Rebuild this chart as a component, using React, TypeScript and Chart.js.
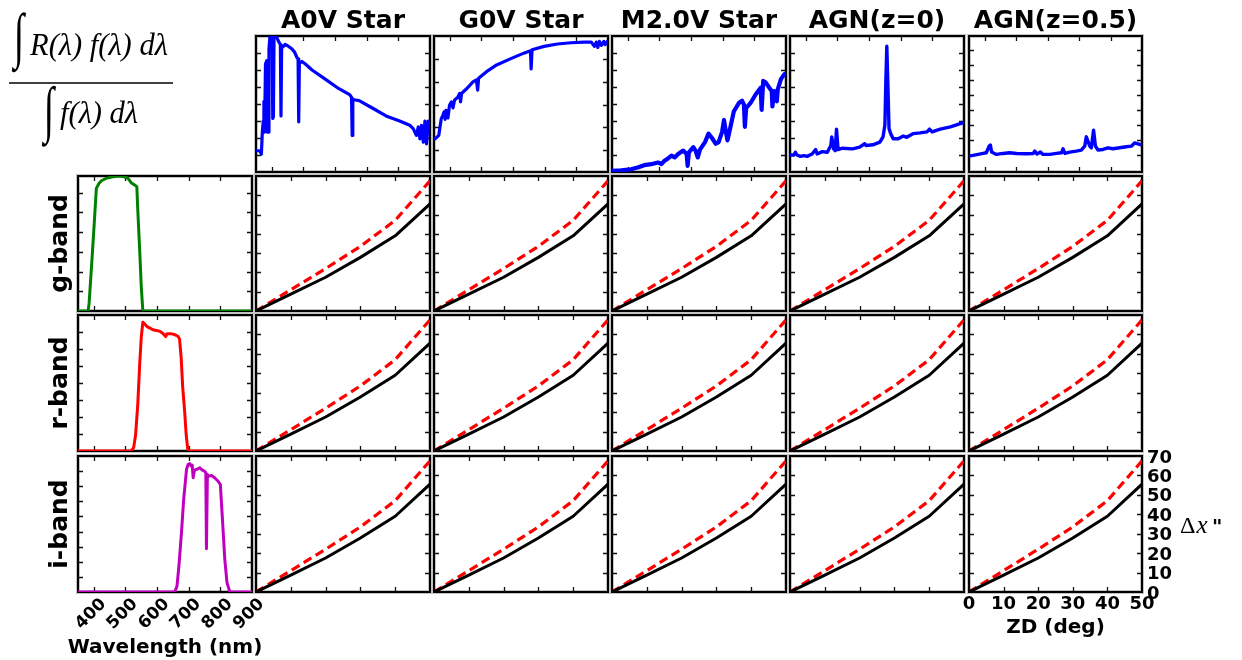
import React, { useEffect, useRef } from "react";
import { Chart, registerables } from "chart.js";

Chart.register(...registerables);

// ---------------- data ----------------
const spectrumTitles = ["A0V Star", "G0V Star", "M2.0V Star", "AGN(z=0)", "AGN(z=0.5)"];
const bandLabels = ["g-band", "r-band", "i-band"];
const bandColors = ["#008000", "#ff0000", "#bf00bf"];
const spectrumColor = "#0000ff";

const wavelengthRange = [350, 900];
const wavelengthTicks = [400, 500, 600, 700, 800];
const wavelengthTickLabels = [400, 500, 600, 700, 800, 900];

// spectra: [wavelength nm, relative flux]
const a0vSpectrum: [number, number][] = [
  [350, 0.25], [362, 0.25], [367, 0.21], [370, 0.47], [373, 0.6], [375, 0.83], [377, 0.47], [380, 1.27],
  [384, 1.31], [386, 0.47], [388, 0.47], [391, 1.45], [394, 1.59], [397, 1.61], [401, 1.58], [403, 0.63],
  [405, 0.65], [407, 1.59], [410, 1.61], [416, 1.58], [422, 1.53], [427, 1.5], [429, 0.66], [431, 1.46],
  [434, 1.47], [442, 1.5], [452, 1.48], [463, 1.45], [472, 1.41], [479, 1.35], [483, 1.33], [485, 0.59],
  [487, 1.27], [491, 1.29], [495, 1.3], [506, 1.27], [527, 1.2], [570, 1.09], [612, 0.98], [646, 0.91],
  [652, 0.88], [654, 0.43], [656, 0.86], [660, 0.85], [676, 0.84], [719, 0.75], [761, 0.66], [804, 0.6],
  [836, 0.55], [847, 0.51], [852, 0.47], [857, 0.43], [863, 0.53], [868, 0.39], [873, 0.55], [879, 0.35],
  [884, 0.6], [889, 0.33], [895, 0.6], [900, 0.5],
];
const a0vRange = [0, 1.6];
const a0vTicks = [0.2, 0.4, 0.6, 0.8, 1.0, 1.2, 1.4];

const g0vSpectrum: [number, number][] = [
  [350, 0.294], [356, 0.306], [365, 0.33], [369, 0.403], [373, 0.477], [378, 0.506], [382, 0.536],
  [385, 0.471], [388, 0.55], [394, 0.483], [399, 0.594], [405, 0.624], [410, 0.571], [415, 0.638],
  [426, 0.668], [431, 0.697], [434, 0.624], [437, 0.697], [452, 0.736], [474, 0.8], [484, 0.815],
  [488, 0.727], [491, 0.83], [516, 0.888], [548, 0.947], [591, 1.0], [634, 1.05], [655, 1.07],
  [657, 0.912], [660, 1.08], [698, 1.109], [740, 1.13], [783, 1.141], [825, 1.147], [847, 1.147],
  [857, 1.109], [863, 1.147], [868, 1.1], [873, 1.153], [879, 1.118], [887, 1.153], [891, 1.124],
  [900, 1.159],
];
const g0vRange = [0.01, 1.2];
const g0vTicks = [0.2, 0.4, 0.6, 0.8, 1.0];

const m2Spectrum: [number, number][] = [
  [350, 0.012], [378, 0.02], [410, 0.032], [431, 0.052], [452, 0.08], [474, 0.092], [495, 0.112],
  [506, 0.092], [516, 0.132], [527, 0.16], [538, 0.192], [548, 0.172], [559, 0.212], [575, 0.252],
  [586, 0.212], [589, 0.072], [593, 0.232], [607, 0.292], [614, 0.252], [621, 0.172], [628, 0.264],
  [644, 0.352], [655, 0.452], [666, 0.4], [678, 0.332], [687, 0.352], [698, 0.472], [704, 0.612],
  [710, 0.472], [715, 0.372], [721, 0.472], [735, 0.712], [751, 0.812], [761, 0.84], [767, 0.792],
  [770, 0.532], [774, 0.752], [788, 0.812], [804, 0.912], [820, 0.992], [823, 0.732], [828, 1.072],
  [836, 1.052], [847, 0.992], [855, 0.952], [857, 0.772], [863, 0.952], [868, 0.872], [871, 0.832],
  [874, 0.972], [884, 1.092], [895, 1.152], [900, 1.16],
];
const m2Range = [0, 1.6];
const m2Ticks = [0.2, 0.4, 0.6, 0.8, 1.0, 1.2, 1.4];

const agn0Spectrum: [number, number][] = [
  [350, 0.2], [362, 0.2], [367, 0.232], [372, 0.2], [383, 0.184], [394, 0.192], [404, 0.184],
  [420, 0.212], [431, 0.264], [436, 0.212], [452, 0.24], [468, 0.232], [479, 0.312], [482, 0.412],
  [488, 0.272], [493, 0.252], [497, 0.504], [502, 0.264], [516, 0.28], [548, 0.272], [570, 0.292],
  [586, 0.332], [591, 0.312], [612, 0.32], [634, 0.352], [644, 0.412], [650, 0.552], [653, 1.072],
  [656, 1.48], [659, 1.072], [663, 0.512], [668, 0.452], [676, 0.392], [692, 0.392], [708, 0.424],
  [719, 0.408], [740, 0.452], [761, 0.46], [783, 0.472], [791, 0.504], [799, 0.472], [825, 0.504],
  [857, 0.532], [900, 0.584],
];
const agn0Range = [0, 1.6];
const agn0Ticks = [0.2, 0.4, 0.6, 0.8, 1.0, 1.2, 1.4];

const agn05Spectrum: [number, number][] = [
  [350, 0.392], [363, 0.401], [379, 0.414], [395, 0.427], [405, 0.436], [414, 0.524], [418, 0.538],
  [422, 0.445], [437, 0.414], [458, 0.427], [479, 0.436], [501, 0.427], [532, 0.423], [554, 0.427],
  [559, 0.458], [566, 0.418], [577, 0.445], [585, 0.414], [607, 0.414], [628, 0.427], [644, 0.436],
  [649, 0.489], [655, 0.427], [670, 0.445], [691, 0.458], [707, 0.471], [718, 0.524], [723, 0.648],
  [728, 0.591], [734, 0.524], [739, 0.502], [746, 0.736], [752, 0.524], [760, 0.471], [776, 0.48],
  [792, 0.502], [808, 0.489], [829, 0.502], [850, 0.516], [866, 0.524], [877, 0.568], [887, 0.555],
  [900, 0.538],
];
const agn05Range = [0.18, 1.99];
const agn05Ticks = [0.4, 0.6, 0.8, 1.0, 1.2, 1.4, 1.6, 1.8];

// filter transmission curves: [wavelength nm, throughput]
const gBand: [number, number][] = [
  [350, 0], [382, 0], [385, 0.037], [392, 0.207], [400, 0.41], [408, 0.622], [416, 0.647], [424, 0.661],
  [439, 0.673], [460, 0.681], [481, 0.685], [497, 0.681], [508, 0.673], [518, 0.651], [529, 0.639],
  [536, 0.631], [539, 0.512], [545, 0.308], [550, 0.122], [555, 0], [900, 0],
];
const gRange = [0, 0.685];
const gTicks = [0.1, 0.2, 0.3, 0.4, 0.5, 0.6];

const rBand: [number, number][] = [
  [350, 0], [518, 0], [526, 0.02], [532, 0.094], [539, 0.276], [545, 0.512], [550, 0.669], [555, 0.758],
  [560, 0.748], [568, 0.732], [576, 0.724], [587, 0.713], [597, 0.709], [608, 0.705], [618, 0.693],
  [627, 0.673], [631, 0.689], [645, 0.689], [655, 0.685], [666, 0.675], [671, 0.659], [676, 0.551],
  [681, 0.374], [687, 0.236], [692, 0.094], [697, 0.01], [702, 0], [900, 0],
];
const rRange = [0, 0.8];
const rTicks = [0.1, 0.2, 0.3, 0.4, 0.5, 0.6, 0.7];

const iBand: [number, number][] = [
  [350, 0], [656, 0], [663, 0.04], [669, 0.172], [677, 0.392], [684, 0.612], [693, 0.811], [698, 0.844],
  [703, 0.85], [708, 0.833], [711, 0.84], [714, 0.756], [718, 0.806], [729, 0.815], [735, 0.822],
  [743, 0.806], [750, 0.8], [754, 0.789], [756, 0.286], [759, 0.778], [764, 0.767], [772, 0.771],
  [782, 0.756], [793, 0.733], [800, 0.711], [806, 0.502], [814, 0.216], [821, 0.062], [830, 0], [900, 0],
];
const iRange = [0, 0.9];
const iTicks = [0.1, 0.2, 0.3, 0.4, 0.5, 0.6, 0.7, 0.8];

// differential refraction vs zenith distance
const zdAngles = [0, 10, 20, 30, 40, 50];
const dxBlack = [0, 8.7, 17.5, 27.8, 39, 55.5];
const dxRed = [0, 11, 22, 33.5, 47, 67.5];
const zdRange = [0, 50];
const dxRange = [0, 70];
const zdTicks = [10, 20, 30, 40];
const zdTickLabels = [0, 10, 20, 30, 40, 50];
const dxTicks = [10, 20, 30, 40, 50, 60];
const dxTickLabels = [0, 10, 20, 30, 40, 50, 60, 70];

// ---------------- layout ----------------
const W = 1242;
const H = 660;
const colLeft = [78, 256, 434, 612, 790, 969];
const colWidth = [174, 174, 174, 174, 174, 173];
const rowTop = [36, 176, 315, 456];
const rowHeight = [136, 135, 136, 136];

const SANS = '"DejaVu Sans", "Bitstream Vera Sans", sans-serif';
const SERIF = '"Liberation Serif", "DejaVu Serif", serif';

type Series = { points: [number, number][]; color: string; width: number; dash?: number[] };
type PanelSpec = {
  key: string;
  col: number;
  row: number;
  xRange: number[];
  yRange: number[];
  xTicks: number[];
  yTicks: number[];
  series: Series[];
  decorate?: (ctx: CanvasRenderingContext2D, chart: any) => void;
};

function drawTitle(ctx: CanvasRenderingContext2D, chart: any, text: string) {
  const a = chart.chartArea;
  ctx.save();
  ctx.fillStyle = "#000";
  ctx.font = `bold 25px ${SANS}`;
  ctx.textAlign = "center";
  ctx.textBaseline = "alphabetic";
  ctx.fillText(text, (a.left + a.right) / 2, 28);
  ctx.restore();
}

function drawRowLabel(ctx: CanvasRenderingContext2D, chart: any, text: string) {
  const a = chart.chartArea;
  ctx.save();
  ctx.fillStyle = "#000";
  ctx.font = `bold 25px ${SANS}`;
  ctx.textAlign = "center";
  ctx.textBaseline = "alphabetic";
  ctx.translate(67, (a.top + a.bottom) / 2);
  ctx.rotate(-Math.PI / 2);
  ctx.fillText(text, 0, 0);
  ctx.restore();
}

function drawGlyphInBox(ctx: CanvasRenderingContext2D, glyph: string, font: string, l: number, t: number, r: number, b: number) {
  ctx.save();
  ctx.font = font;
  const m = ctx.measureText(glyph);
  const gw = m.actualBoundingBoxLeft + m.actualBoundingBoxRight;
  const gh = m.actualBoundingBoxAscent + m.actualBoundingBoxDescent;
  ctx.translate(l, t);
  ctx.scale((r - l) / gw, (b - t) / gh);
  ctx.textAlign = "left";
  ctx.textBaseline = "alphabetic";
  ctx.fillText(glyph, m.actualBoundingBoxLeft, m.actualBoundingBoxAscent);
  ctx.restore();
}

function drawFormula(ctx: CanvasRenderingContext2D) {
  ctx.save();
  ctx.fillStyle = "#000";
  ctx.strokeStyle = "#000";
  drawGlyphInBox(ctx, "\u222B", `40px ${SERIF}`, 11, 12, 27, 73);
  drawGlyphInBox(ctx, "\u222B", `40px ${SERIF}`, 41, 85, 57, 147);
  ctx.font = `italic 30px ${SERIF}`;
  const num = "R(\u03BB) f(\u03BB) d\u03BB";
  const wNum = ctx.measureText(num).width;
  const size = (30 * 138) / wNum;
  ctx.font = `italic ${size.toFixed(1)}px ${SERIF}`;
  ctx.textAlign = "left";
  ctx.textBaseline = "alphabetic";
  ctx.fillText(num, 30, 55);
  ctx.fillText("f(\u03BB) d\u03BB", 60, 123);
  ctx.lineWidth = 1.6;
  ctx.beginPath();
  ctx.moveTo(9, 83);
  ctx.lineTo(173, 83);
  ctx.stroke();
  ctx.restore();
}

function drawWavelengthAxis(ctx: CanvasRenderingContext2D, chart: any) {
  const x = chart.scales.x;
  ctx.save();
  ctx.fillStyle = "#000";
  ctx.font = `bold 17px ${SANS}`;
  ctx.textAlign = "center";
  ctx.textBaseline = "middle";
  for (const v of wavelengthTickLabels) {
    const px = x.getPixelForValue(v);
    ctx.save();
    ctx.translate(px - 3, 614);
    ctx.rotate(-Math.PI / 4);
    ctx.fillText(String(v), 0, 0);
    ctx.restore();
  }
  ctx.font = `bold 20px ${SANS}`;
  ctx.textBaseline = "alphabetic";
  ctx.fillText("Wavelength (nm)", 165, 653);
  ctx.restore();
}

function drawZdAxes(ctx: CanvasRenderingContext2D, chart: any) {
  const { x, y } = chart.scales;
  const a = chart.chartArea;
  ctx.save();
  ctx.fillStyle = "#000";
  ctx.font = `bold 18px ${SANS}`;
  ctx.textAlign = "center";
  ctx.textBaseline = "alphabetic";
  for (const v of zdTickLabels) ctx.fillText(String(v), x.getPixelForValue(v), 609);
  ctx.textAlign = "left";
  for (const v of dxTickLabels) ctx.fillText(String(v), a.right + 5, y.getPixelForValue(v) + 6.5);
  ctx.textAlign = "center";
  ctx.font = `bold 20px ${SANS}`;
  ctx.fillText("ZD (deg)", (a.left + a.right) / 2, 633);
  // Delta x label
  ctx.textAlign = "left";
  ctx.font = `24px ${SERIF}`;
  ctx.fillText("\u0394", 1180, 533);
  const wd = ctx.measureText("\u0394").width;
  ctx.font = `italic 25px ${SERIF}`;
  ctx.fillText("x", 1180 + wd + 1, 533);
  ctx.font = `bold 20px ${SANS}`;
  ctx.fillText('"', 1212, 533);
  ctx.restore();
}

function makePanelPlugin(spec: PanelSpec) {
  return {
    id: "panelFrame_" + spec.key,
    beforeDatasetsDraw(chart: any) {
      const { ctx, chartArea: a, scales } = chart;
      ctx.save();
      ctx.strokeStyle = "#c4c4c4";
      ctx.lineWidth = 4;
      ctx.strokeRect(a.left, a.top, a.right - a.left, a.bottom - a.top);
      ctx.strokeStyle = "#000";
      ctx.lineWidth = 2;
      ctx.strokeRect(a.left, a.top, a.right - a.left, a.bottom - a.top);
      ctx.strokeStyle = "#111";
      ctx.lineWidth = 1.3;
      const L = 5;
      ctx.beginPath();
      for (const v of spec.xTicks) {
        const px = Math.round(scales.x.getPixelForValue(v)) + 0.5;
        ctx.moveTo(px, a.top);
        ctx.lineTo(px, a.top + L);
        ctx.moveTo(px, a.bottom);
        ctx.lineTo(px, a.bottom - L);
      }
      for (const v of spec.yTicks) {
        const py = Math.round(scales.y.getPixelForValue(v)) + 0.5;
        ctx.moveTo(a.left, py);
        ctx.lineTo(a.left + L, py);
        ctx.moveTo(a.right, py);
        ctx.lineTo(a.right - L, py);
      }
      ctx.stroke();
      ctx.restore();
    },
    afterDraw(chart: any) {
      if (spec.decorate) spec.decorate(chart.ctx, chart);
    },
  };
}

function pairs(xs: number[], ys: number[]): [number, number][] {
  return xs.map((x, i) => [x, ys[i]] as [number, number]);
}

// ---------------- panel list ----------------
const spectra = [
  { title: spectrumTitles[0], points: a0vSpectrum, range: a0vRange, ticks: a0vTicks, width: 3.2 },
  { title: spectrumTitles[1], points: g0vSpectrum, range: g0vRange, ticks: g0vTicks, width: 3.2 },
  { title: spectrumTitles[2], points: m2Spectrum, range: m2Range, ticks: m2Ticks, width: 4.2 },
  { title: spectrumTitles[3], points: agn0Spectrum, range: agn0Range, ticks: agn0Ticks, width: 3.4 },
  { title: spectrumTitles[4], points: agn05Spectrum, range: agn05Range, ticks: agn05Ticks, width: 3.4 },
];
const bands = [
  { label: bandLabels[0], color: bandColors[0], points: gBand, range: gRange, ticks: gTicks },
  { label: bandLabels[1], color: bandColors[1], points: rBand, range: rRange, ticks: rTicks },
  { label: bandLabels[2], color: bandColors[2], points: iBand, range: iRange, ticks: iTicks },
];

const panels: PanelSpec[] = [];
spectra.forEach((s, i) => {
  panels.push({
    key: "spec" + i,
    col: i + 1,
    row: 0,
    xRange: wavelengthRange,
    yRange: s.range,
    xTicks: wavelengthTicks,
    yTicks: s.ticks,
    series: [{ points: s.points, color: spectrumColor, width: s.width }],
    decorate: (ctx, chart) => drawTitle(ctx, chart, s.title),
  });
});
bands.forEach((b, r) => {
  panels.push({
    key: "band" + r,
    col: 0,
    row: r + 1,
    xRange: wavelengthRange,
    yRange: b.range,
    xTicks: wavelengthTicks,
    yTicks: b.ticks,
    series: [{ points: b.points, color: b.color, width: 3 }],
    decorate: (ctx, chart) => {
      drawRowLabel(ctx, chart, b.label);
      if (r === 0) drawFormula(ctx);
      if (r === 2) drawWavelengthAxis(ctx, chart);
    },
  });
  for (let c = 1; c <= 5; c++) {
    panels.push({
      key: `zd${r}_${c}`,
      col: c,
      row: r + 1,
      xRange: zdRange,
      yRange: dxRange,
      xTicks: zdTicks,
      yTicks: dxTicks,
      series: [
        { points: pairs(zdAngles, dxBlack), color: "#000000", width: 3 },
        { points: pairs(zdAngles, dxRed), color: "#ff0000", width: 3.2, dash: [9, 5] },
      ],
      decorate: r === 2 && c === 5 ? drawZdAxes : undefined,
    });
  }
});

function Panel({ spec }: { spec: PanelSpec }) {
  const ref = useRef<HTMLCanvasElement>(null);
  useEffect(() => {
    const canvas = ref.current;
    if (!canvas) return;
    const l = colLeft[spec.col];
    const t = rowTop[spec.row];
    const w = colWidth[spec.col];
    const h = rowHeight[spec.row];
    const chart = new Chart(canvas, {
      type: "line",
      data: {
        datasets: spec.series.map((s) => ({
          data: s.points.map(([x, y]) => ({ x, y })),
          borderColor: s.color,
          borderWidth: s.width,
          borderDash: s.dash || [],
          borderCapStyle: "butt",
          borderJoinStyle: "round",
          pointRadius: 0,
          fill: false,
          tension: 0,
        })),
      },
      options: {
        animation: false,
        responsive: false,
        maintainAspectRatio: false,
        devicePixelRatio: 1,
        events: [],
        layout: { padding: { left: l, top: t, right: W - l - w, bottom: H - t - h } },
        plugins: { legend: { display: false }, tooltip: { enabled: false }, title: { display: false } },
        scales: {
          x: { type: "linear", min: spec.xRange[0], max: spec.xRange[1], display: false },
          y: { type: "linear", min: spec.yRange[0], max: spec.yRange[1], display: false },
        },
      },
      plugins: [makePanelPlugin(spec)],
    } as any);
    return () => chart.destroy();
  }, [spec]);
  return <canvas ref={ref} width={W} height={H} style={{ position: "absolute", left: 0, top: 0 }} />;
}

export default function App() {
  return (
    <div style={{ position: "fixed", left: 0, top: 0, width: W, height: H, background: "#fff", overflow: "hidden" }}>
      {panels.map((p) => (
        <Panel key={p.key} spec={p} />
      ))}
    </div>
  );
}
